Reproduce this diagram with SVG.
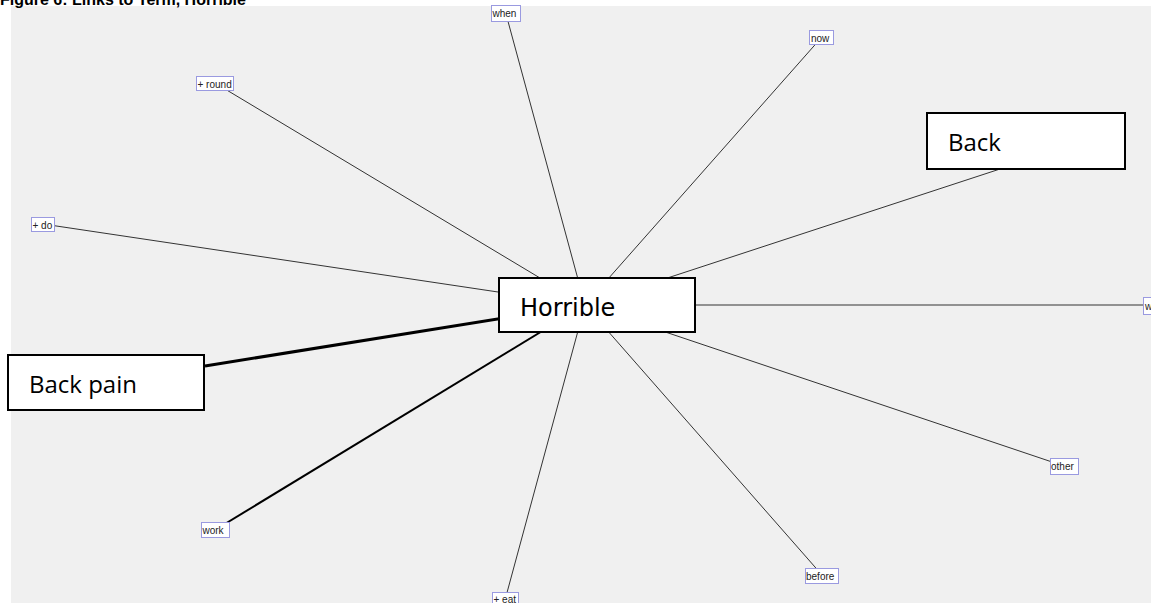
<svg xmlns="http://www.w3.org/2000/svg" width="1151" height="603" viewBox="0 0 1151 603">
<style>
.sm rect{fill:#fff;stroke:#9a9ae0;stroke-width:1}
.sm text{font-family:"Liberation Sans",Arial,sans-serif;font-size:10px;fill:#222}
.big rect{fill:#fff;stroke:#000;stroke-width:2}
.big text{font-family:"Open Sans",sans-serif;font-size:24px;fill:#000}
.edges line{stroke:#333;stroke-width:1}
</style>
<rect width="1151" height="603" fill="#fff"/>
<rect x="11" y="6" width="1140" height="597" fill="#f0f0f0"/>
<text x="0" y="5" font-family="Liberation Sans,Arial,sans-serif" font-weight="bold" font-size="16" fill="#000">Figure 6: Links to Term, Horrible</text>
<g id="edges" class="edges">
<line x1="585" y1="305" x2="506" y2="14"/>
<line x1="585" y1="305" x2="821" y2="38"/>
<line x1="585" y1="305" x2="215" y2="83"/>
<line x1="585" y1="305" x2="43" y2="224"/>
<line x1="585" y1="305" x2="1000" y2="169"/>
<line x1="585" y1="305" x2="1150" y2="305" stroke="#777"/>
<line x1="585" y1="305" x2="1064" y2="466"/>
<line x1="585" y1="305" x2="822" y2="575"/>
<line x1="585" y1="305" x2="505" y2="600"/>
<line x1="585" y1="305" x2="215" y2="530" style="stroke:#000;stroke-width:2"/>
<line x1="585" y1="305" x2="205" y2="366" style="stroke:#000;stroke-width:3"/>
</g>
<g id="n-when" class="sm"><rect x="491.5" y="5.5" width="29" height="16"/><text x="492.5" y="17">when</text></g>
<g id="n-now" class="sm"><rect x="809.5" y="30.5" width="24" height="14"/><text x="811" y="41.5">now</text></g>
<g id="n-round" class="sm"><rect x="196.5" y="76.5" width="37" height="14"/><text x="197.5" y="87.5">+ round</text></g>
<g id="n-do" class="sm"><rect x="31.5" y="217.5" width="23" height="14"/><text x="32.5" y="228.5">+ do</text></g>
<g id="n-w" class="sm"><rect x="1143.5" y="297.5" width="12" height="17"/><text x="1145" y="310">w</text></g>
<g id="n-other" class="sm"><rect x="1050.5" y="458.5" width="28" height="16"/><text x="1051" y="470">other</text></g>
<g id="n-before" class="sm"><rect x="805.5" y="568.5" width="33" height="15"/><text x="806" y="580">before</text></g>
<g id="n-eat" class="sm"><rect x="492.5" y="592.5" width="26" height="16"/><text x="493.5" y="603">+ eat</text></g>
<g id="n-work" class="sm"><rect x="201.5" y="522.5" width="28" height="15"/><text x="202.5" y="534">work</text></g>
<g id="n-horrible" class="big"><rect x="499" y="278" width="196" height="54"/><text x="520" y="316" style="font-family:'DejaVu Sans',sans-serif">Horrible</text></g>
<g id="n-back" class="big"><rect x="927" y="113" width="198" height="56"/><text x="948" y="151">Back</text></g>
<g id="n-backpain" class="big"><rect x="8" y="355" width="196" height="55"/><text x="29" y="393">Back pain</text></g>
</svg>
